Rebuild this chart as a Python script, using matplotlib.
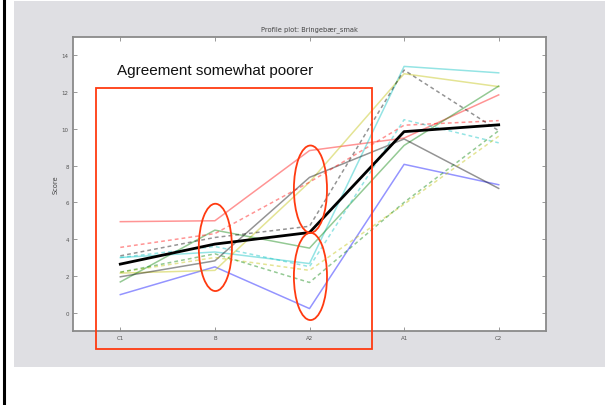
import matplotlib
matplotlib.use("Agg")
import matplotlib.pyplot as plt
from matplotlib.patches import Rectangle, Ellipse

attributes = ["C1", "B", "A2", "A1", "C2"]

# assessor profiles (solid lines)
red_solid = [4.95, 5.0, 8.82, 9.5, 11.85]
blue_solid = [0.98, 2.49, 0.22, 8.07, 6.96]
cyan_solid = [3.0, 3.3, 2.67, 13.4, 13.05]
yellow_solid = [2.15, 2.3, 7.1, 13.0, 12.3]
green_solid = [1.67, 4.49, 3.51, 9.1, 12.33]
gray_solid = [1.95, 2.82, 7.36, 9.45, 6.76]

# assessor profiles (dashed lines)
red_dashed = [3.55, 4.3, 7.1, 10.2, 10.45]
gray_dashed = [3.09, 4.09, 4.7, 13.2, 9.9]
cyan_dashed = [3.0, 3.6, 2.5, 10.5, 9.24]
yellow_dashed = [2.2, 3.0, 2.3, 5.9, 9.6]
green_dashed = [2.2, 3.2, 1.64, 6.0, 9.9]

# consensus profile
mean_profile = [2.64, 3.73, 4.36, 9.85, 10.22]

W, H = 605, 406
fig = plt.figure(figsize=(W / 100, H / 100), dpi=100)
fig.patch.set_facecolor("white")

# slide background panel and left border line
panel = Rectangle((14 / W, (H - 368) / H), (W - 14) / W, (368 - 2) / H,
                  transform=fig.transFigure, facecolor="#dfdfe3",
                  edgecolor="none", zorder=-10)
fig.add_artist(panel)
fig.add_artist(plt.Line2D([3.5 / W, 3.5 / W], [0, 1], transform=fig.transFigure,
                          color="black", lw=2.2, zorder=-5))

ax = fig.add_axes([73 / W, (H - 332) / H, (546 - 73) / W, (332 - 38) / H])
ax.set_facecolor("white")

x = range(len(attributes))
solids = [(red_solid, "r"), (blue_solid, "b"), (cyan_solid, "c"),
          (yellow_solid, "y"), (green_solid, "g"), (gray_solid, "k")]
dashes = [(red_dashed, "r"), (gray_dashed, "k"), (cyan_dashed, "c"),
          (yellow_dashed, "y"), (green_dashed, "g")]
for vals, col in solids:
    ax.plot(x, vals, color=col, alpha=0.42, lw=1.1, ls="-")
for vals, col in dashes:
    ax.plot(x, vals, color=col, alpha=0.42, lw=1.1, ls="--", dashes=(2.5, 2))
ax.plot(x, mean_profile, color="black", lw=2.0)

ax.set_xlim(-0.5, 4.5)
ax.set_ylim(-1, 15)
ax.set_xticks(list(x))
ax.set_xticklabels(attributes)
ax.set_yticks(range(0, 15, 2))
ax.tick_params(direction="in", length=3, width=0.6, colors="#888888",
               labelcolor="#555555", labelsize=4, top=True, right=True, pad=3)
for sp in ax.spines.values():
    sp.set_color("#8a8a8a")
    sp.set_linewidth(1.3)
ax.set_ylabel("Score", fontsize=4.8, color="#444444", labelpad=2)
ax.set_title("Profile plot: Bringebær_smak", fontsize=4.8, color="#444444", pad=5)

# highlighted region and circled attribute points
red = "#ff3a10"
ax.add_patch(Rectangle((-0.254, -1.97), 2.91, 14.21, fill=False, edgecolor=red,
                       lw=1.3, clip_on=False, zorder=5))
for cx, cy in [(1.005, 3.55), (2.01, 6.72), (2.01, 1.97)]:
    ax.add_patch(Ellipse((cx, cy), 0.35, 4.75, fill=False, edgecolor=red,
                         lw=1.3, clip_on=False, zorder=5))
ax.text(-0.03, 13.2, "Agreement somewhat poorer", fontsize=11,
        family="Liberation Sans", color="#111111", va="center", ha="left")

fig.savefig("out.png", dpi=100)
